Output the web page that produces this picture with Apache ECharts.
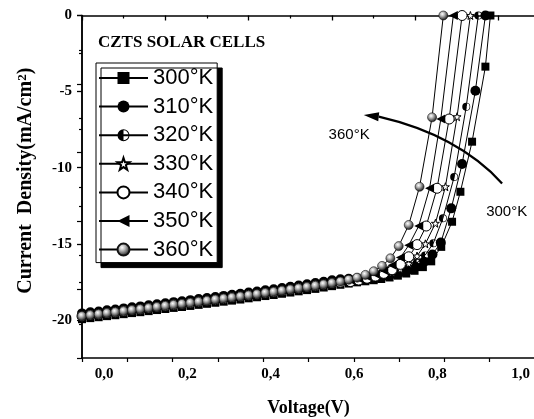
<!DOCTYPE html>
<html>
<head>
<meta charset="utf-8">
<script src="https://cdn.jsdelivr.net/npm/echarts@6/dist/echarts.min.js"></script>
<style>
  html, body { margin: 0; padding: 0; background: #fff; }
  #chart { width: 534px; height: 419px; }
</style>
</head>
<body>
<div id="chart"></div>
<script>
// J–V characteristics of a CZTS solar cell measured at seven temperatures.

const temperatures = ['300°K', '310°K', '320°K', '330°K', '340°K', '350°K', '360°K'];

// Low-bias sweep, 0 – 0.60 V in 20 mV steps
const lowVoltage = [0.00, 0.02, 0.04, 0.06, 0.08, 0.10, 0.12, 0.14, 0.16, 0.18,
                    0.20, 0.22, 0.24, 0.26, 0.28, 0.30, 0.32, 0.34, 0.36, 0.38,
                    0.40, 0.42, 0.44, 0.46, 0.48, 0.50, 0.52, 0.54, 0.56, 0.58, 0.60];

// Current density over the low-bias sweep (mA/cm²)
const low300 = [-19.95, -19.88, -19.82, -19.75, -19.69, -19.62, -19.55, -19.49, -19.42, -19.35,
                -19.28, -19.21, -19.15, -19.08, -19.01, -18.94, -18.87, -18.80, -18.73, -18.66,
                -18.58, -18.51, -18.43, -18.36, -18.28, -18.20, -18.12, -18.04, -17.96, -17.87, -17.78];
const low310 = [-19.57, -19.50, -19.44, -19.37, -19.31, -19.24, -19.17, -19.11, -19.04, -18.97,
                -18.90, -18.83, -18.77, -18.70, -18.63, -18.56, -18.49, -18.42, -18.35, -18.28,
                -18.20, -18.13, -18.05, -17.98, -17.90, -17.82, -17.74, -17.66, -17.58, -17.49, -17.40];
const low320 = [-19.85, -19.78, -19.72, -19.65, -19.59, -19.52, -19.45, -19.39, -19.32, -19.25,
                -19.18, -19.11, -19.05, -18.98, -18.91, -18.84, -18.77, -18.70, -18.63, -18.56,
                -18.48, -18.41, -18.33, -18.26, -18.18, -18.10, -18.02, -17.94, -17.86, -17.77, -17.68];
const low330 = [-19.67, -19.60, -19.54, -19.47, -19.41, -19.34, -19.27, -19.21, -19.14, -19.07,
                -19.00, -18.93, -18.87, -18.80, -18.73, -18.66, -18.59, -18.52, -18.45, -18.38,
                -18.30, -18.23, -18.15, -18.08, -18.00, -17.92, -17.84, -17.76, -17.68, -17.59, -17.50];
const low340 = [-19.75, -19.68, -19.62, -19.55, -19.49, -19.42, -19.35, -19.29, -19.22, -19.15,
                -19.08, -19.01, -18.95, -18.88, -18.81, -18.74, -18.67, -18.60, -18.53, -18.46,
                -18.38, -18.31, -18.23, -18.16, -18.08, -18.00, -17.92, -17.84, -17.76, -17.67, -17.58];
const low350 = [-19.70, -19.63, -19.57, -19.50, -19.44, -19.37, -19.30, -19.24, -19.17, -19.10,
                -19.03, -18.96, -18.90, -18.83, -18.76, -18.69, -18.62, -18.55, -18.48, -18.41,
                -18.33, -18.26, -18.18, -18.11, -18.03, -17.95, -17.87, -17.79, -17.71, -17.62, -17.53];
const low360 = [-19.75, -19.68, -19.62, -19.55, -19.49, -19.42, -19.35, -19.29, -19.22, -19.15,
                -19.08, -19.01, -18.95, -18.88, -18.81, -18.74, -18.67, -18.60, -18.53, -18.46,
                -18.38, -18.31, -18.23, -18.16, -18.08, -18.00, -17.92, -17.84, -17.76, -17.67, -17.58];

// Knee and forward-bias part of each curve (V, mA/cm²)
const kneeV300 = [0.62, 0.64, 0.66, 0.68, 0.70, 0.718, 0.738, 0.758, 0.778, 0.798, 0.818, 0.838, 0.862, 0.888, 0.908, 0.936, 0.968, 0.980];
const kneeJ300 = [-17.69, -17.61, -17.53, -17.46, -17.39, -17.31, -17.21, -17.09, -16.95, -16.77, -16.53, -16.15, -15.20, -13.55, -11.58, -8.29, -3.36, 0];
const kneeV310 = [0.62, 0.64, 0.66, 0.68, 0.701, 0.721, 0.741, 0.761, 0.781, 0.801, 0.821, 0.841, 0.861, 0.886, 0.912, 0.944, 0.968];
const kneeJ310 = [-17.33, -17.29, -17.26, -17.23, -17.20, -17.12, -17.02, -16.90, -16.74, -16.52, -16.18, -15.70, -14.92, -12.67, -9.76, -4.94, 0];
const kneeV320 = [0.62, 0.64, 0.66, 0.683, 0.703, 0.723, 0.743, 0.763, 0.783, 0.803, 0.823, 0.843, 0.866, 0.893, 0.922, 0.951];
const kneeJ320 = [-17.60, -17.53, -17.46, -17.39, -17.29, -17.17, -17.03, -16.85, -16.61, -16.26, -15.76, -14.96, -13.32, -10.61, -5.99, 0];
const kneeV330 = [0.62, 0.64, 0.664, 0.684, 0.704, 0.724, 0.744, 0.764, 0.784, 0.804, 0.824, 0.848, 0.872, 0.900, 0.932];
const kneeJ330 = [-17.47, -17.45, -17.43, -17.33, -17.21, -17.07, -16.89, -16.65, -16.30, -15.80, -15.00, -13.65, -11.25, -6.65, 0];
const kneeV340 = [0.62, 0.644, 0.664, 0.684, 0.704, 0.724, 0.744, 0.764, 0.784, 0.804, 0.826, 0.852, 0.881, 0.912];
const kneeJ340 = [-17.52, -17.48, -17.38, -17.26, -17.12, -16.94, -16.70, -16.35, -15.85, -15.05, -13.83, -11.35, -6.80, 0];
const kneeV350 = [0.624, 0.644, 0.664, 0.684, 0.704, 0.724, 0.744, 0.764, 0.784, 0.808, 0.834, 0.861, 0.891];
const kneeJ350 = [-17.47, -17.39, -17.29, -17.16, -16.99, -16.75, -16.40, -15.90, -15.10, -13.83, -11.35, -6.80, 0];
const kneeV360 = [0.62, 0.64, 0.66, 0.68, 0.70, 0.72, 0.74, 0.76, 0.784, 0.810, 0.840, 0.867];
const kneeJ360 = [-17.48, -17.36, -17.22, -17.04, -16.80, -16.45, -15.95, -15.15, -13.76, -11.25, -6.69, 0];

const lowJ = [low300, low310, low320, low330, low340, low350, low360];
const kneeV = [kneeV300, kneeV310, kneeV320, kneeV330, kneeV340, kneeV350, kneeV360];
const kneeJ = [kneeJ300, kneeJ310, kneeJ320, kneeJ330, kneeJ340, kneeJ350, kneeJ360];

// Tick values
const xMajorTicks = [0, 0.2, 0.4, 0.6, 0.8, 1.0];
const xMinorTicks = [0.1, 0.3, 0.5, 0.7, 0.9];
const yMajorTicks = [-20, -15, -10, -5, 0];
const yMinorTicks = [-17.5, -12.5, -7.5, -2.5];

// Annotation anchors in data units
const arrowTail = [1.008, -11.03];
const arrowCtrl = [0.902, -7.85];
const arrowBase = [0.712, -6.65];
const arrowTip = [0.676, -6.54];
const label360Pos = [0.641, -7.85];
const label300Pos = [1.019, -12.91];

const SERIF = '"Liberation Serif", "Times New Roman", serif';
const SANS = '"Liberation Sans", Arial, sans-serif';

const halfCircle = 'path://M10,0A10,10,0,1,1,10,20A10,10,0,1,1,10,0ZM10,1.6A8.4,8.4,0,1,0,10,18.4A8.4,8.4,0,1,0,10,1.6ZM10,1.6A8.4,8.4,0,0,0,10,18.4Z';
const star = 'path://M10,0L12.35,6.9L19.5,6.9L13.8,11.2L15.9,18.1L10,14L4.1,18.1L6.2,11.2L0.5,6.9L7.65,6.9Z';
const triLeft = 'path://M0,5L10,0L10,10Z';

const markerStyles = [
  { symbol: 'rect', size: 8, itemStyle: { color: '#000' } },
  { symbol: 'circle', size: 10, itemStyle: { color: '#000' } },
  { symbol: halfCircle, size: 8, itemStyle: { color: '#000' } },
  { symbol: star, size: 8, itemStyle: { color: '#fff', borderColor: '#000', borderWidth: 1 } },
  { symbol: 'circle', size: 10, itemStyle: { color: '#fff', borderColor: '#000', borderWidth: 1 } },
  { symbol: triLeft, size: 9, itemStyle: { color: '#000' } },
  { symbol: 'circle', size: 9, itemStyle: {
      color: { type: 'radial', x: 0.4, y: 0.35, r: 0.65,
               colorStops: [{ offset: 0, color: '#ffffff' }, { offset: 0.35, color: '#b8b8b8' }, { offset: 1, color: '#111111' }] },
      borderColor: '#111', borderWidth: 0.6 } }
];

const series = temperatures.map((name, i) => {
  const pts = lowVoltage.map((v, k) => [v, lowJ[i][k]]);
  kneeV[i].forEach((v, k) => pts.push([v, kneeJ[i][k]]));
  const m = markerStyles[i];
  return {
    name: name,
    type: 'line',
    xAxisIndex: 0,
    yAxisIndex: 0,
    data: pts,
    symbol: m.symbol,
    symbolSize: m.size,
    showAllSymbol: true,
    itemStyle: m.itemStyle,
    lineStyle: { color: '#000', width: 1 },
    emphasis: { disabled: true },
    z: 2 + i
  };
});

const axisColor = '#000';
const chart = echarts.init(document.getElementById('chart'), null, { renderer: 'canvas' });

chart.setOption({
  animation: false,
  backgroundColor: '#fff',
  title: {
    text: 'CZTS SOLAR CELLS',
    left: 98, top: 34, padding: 0,
    textStyle: { fontFamily: SERIF, fontWeight: 'bold', fontSize: 17, color: '#000' }
  },
  legend: {
    orient: 'vertical',
    left: 96, top: 63,
    itemWidth: 49, itemHeight: 15, itemGap: 6.6,
    padding: [4, 4, 2, 2],
    backgroundColor: '#fff',
    borderColor: '#000', borderWidth: 1, borderRadius: 0,
    shadowColor: '#000', shadowBlur: 0, shadowOffsetX: 5, shadowOffsetY: 5,
    textStyle: { fontFamily: SANS, fontSize: 22, color: '#000' },
    data: temperatures,
    selectedMode: false
  },
  grid: { left: 82, right: -1, top: 15.5, bottom: 61, outerBoundsMode: 'none', containLabel: false },
  xAxis: [
    {
      type: 'value', min: 0, max: 1.087, position: 'bottom',
      axisLine: { show: true, lineStyle: { color: axisColor, width: 1.5 } },
      axisTick: { show: true, inside: false, length: 5, customValues: xMajorTicks, lineStyle: { color: axisColor, width: 1.3 } },
      axisLabel: {
        customValues: xMajorTicks,
        formatter: v => v.toFixed(1).replace('.', ','),
        padding: [0, 0, 0, 44], margin: 9,
        fontFamily: SERIF, fontWeight: 'bold', fontSize: 15, color: '#000'
      },
      splitLine: { show: false },
      name: 'Voltage(V)', nameLocation: 'middle', nameGap: 41,
      nameTextStyle: { fontFamily: SERIF, fontWeight: 'bold', fontSize: 18, color: '#000' }
    },
    {
      type: 'value', min: 0, max: 1.087, position: 'bottom',
      axisLine: { show: false },
      axisTick: { show: true, inside: false, length: 3, customValues: xMinorTicks, lineStyle: { color: axisColor, width: 1.2 } },
      axisLabel: { show: false },
      splitLine: { show: false }
    },
    {
      type: 'value', min: 0, max: 10, interval: 1, position: 'top',
      axisLine: { show: true, lineStyle: { color: axisColor, width: 1.5 } },
      axisTick: { show: true, inside: true, length: 4, lineStyle: { color: axisColor, width: 1.2 } },
      axisLabel: { show: false },
      splitLine: { show: false }
    }
  ],
  yAxis: [
    {
      type: 'value', min: -22.5, max: 0, position: 'left',
      axisLine: { show: true, lineStyle: { color: axisColor, width: 1.5 } },
      axisTick: { show: true, inside: false, length: 5, customValues: yMajorTicks, lineStyle: { color: axisColor, width: 1.3 } },
      axisLabel: {
        customValues: yMajorTicks, margin: 10,
        fontFamily: SERIF, fontWeight: 'bold', fontSize: 15, color: '#000'
      },
      splitLine: { show: false },
      name: '{a|Current  Density(mA/cm}{s|2}{a|)}',
      nameLocation: 'middle', nameGap: 46, nameRotate: 90,
      nameTextStyle: {
        padding: [0, 0, 0, 12],
        rich: {
          a: { fontFamily: SERIF, fontWeight: 'bold', fontSize: 20, color: '#000' },
          s: { fontFamily: SERIF, fontWeight: 'bold', fontSize: 13, color: '#000', verticalAlign: 'top' }
        }
      }
    },
    {
      type: 'value', min: -22.5, max: 0, position: 'left',
      axisLine: { show: false },
      axisTick: { show: true, inside: false, length: 3, customValues: yMinorTicks, lineStyle: { color: axisColor, width: 1.2 } },
      axisLabel: { show: false },
      splitLine: { show: false }
    },
    {
      type: 'value', min: 0, max: 5, interval: 1, position: 'right',
      axisLine: { show: true, lineStyle: { color: axisColor, width: 1.5 } },
      axisTick: { show: true, inside: true, length: 5, lineStyle: { color: axisColor, width: 1.2 } },
      minorTick: { show: true, splitNumber: 2, length: 3, lineStyle: { color: axisColor, width: 1.2 } },
      axisLabel: { show: false },
      splitLine: { show: false }
    }
  ],
  series: series
});

// Temperature arrow and its end labels, placed in data units
const px = p => chart.convertToPixel({ xAxisIndex: 0, yAxisIndex: 0 }, p);
const t = px(arrowTail), c = px(arrowCtrl), b = px(arrowBase), tip = px(arrowTip);
const dx = tip[0] - b[0], dy = tip[1] - b[1];
const len = Math.hypot(dx, dy);
const nx = -dy / len * 4.5, ny = dx / len * 4.5;
const l360 = px(label360Pos), l300 = px(label300Pos);

chart.setOption({
  graphic: [
    { type: 'bezierCurve', z: 20,
      shape: { x1: t[0], y1: t[1], cpx1: c[0], cpy1: c[1], x2: b[0], y2: b[1] },
      style: { stroke: '#000', lineWidth: 2.3, fill: null } },
    { type: 'polygon', z: 20,
      shape: { points: [[tip[0], tip[1]], [b[0] + nx, b[1] + ny], [b[0] - nx, b[1] - ny]] },
      style: { fill: '#000' } },
    { type: 'text', z: 20, x: l360[0], y: l360[1],
      style: { text: '360°K', font: '15px ' + SANS, fill: '#000', align: 'center', verticalAlign: 'middle' } },
    { type: 'text', z: 20, x: l300[0], y: l300[1],
      style: { text: '300°K', font: '15px ' + SANS, fill: '#000', align: 'center', verticalAlign: 'middle' } }
  ]
});
</script>
</body>
</html>
